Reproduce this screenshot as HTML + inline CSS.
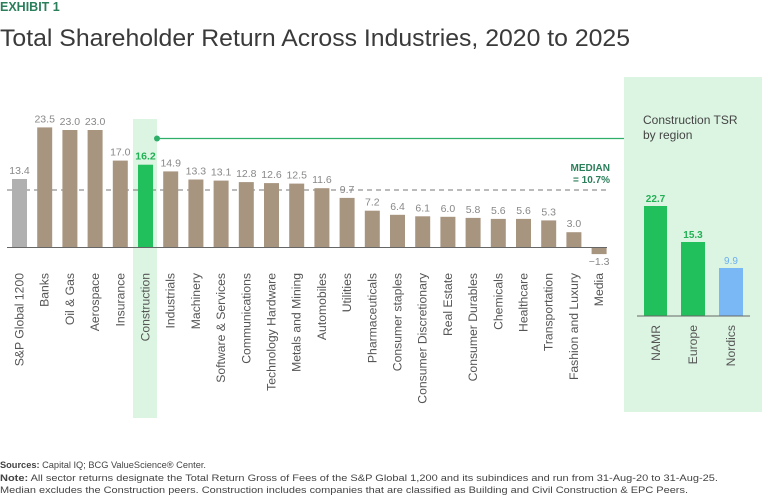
<!DOCTYPE html>
<html><head><meta charset="utf-8"><style>
html,body{margin:0;padding:0;background:#fff;}
svg{display:block;font-family:"Liberation Sans",sans-serif;}
</style></head><body>
<svg width="768" height="497" viewBox="0 0 768 497" xmlns="http://www.w3.org/2000/svg">
<text x="0" y="11" font-size="12.5" font-weight="bold" fill="#2a7f5a">EXHIBIT 1</text>
<text x="0" y="46" font-size="24" fill="#3a3a3a" textLength="630" lengthAdjust="spacingAndGlyphs">Total Shareholder Return Across Industries, 2020 to 2025</text>
<rect x="133" y="119" width="24" height="299" fill="#dcf5e2"/>
<rect x="624" y="77" width="138" height="335" fill="#dcf5e2"/>
<line x1="157" y1="138.5" x2="624" y2="138.5" stroke="#2fae6a" stroke-width="1.3"/>
<circle cx="157" cy="138.5" r="3" fill="#2fae6a"/>
<line x1="7" y1="190" x2="610" y2="190" stroke="#777" stroke-width="1" stroke-dasharray="5,4"/>
<text x="610" y="171" font-size="10" font-weight="bold" fill="#2a7f5a" text-anchor="end">MEDIAN</text>
<text x="610" y="183" font-size="10" font-weight="bold" fill="#2a7f5a" text-anchor="end">= 10.7%</text>
<g>
<rect x="12" y="179" width="15" height="68.5" fill="#b0b0b0"/>
<rect x="37.2" y="127.4" width="15" height="120.1" fill="#a89580"/>
<rect x="62.4" y="130" width="15" height="117.5" fill="#a89580"/>
<rect x="87.6" y="130" width="15" height="117.5" fill="#a89580"/>
<rect x="112.8" y="160.6" width="15" height="86.9" fill="#a89580"/>
<rect x="138" y="164.7" width="15" height="82.8" fill="#22c05c"/>
<rect x="163.2" y="171.4" width="15" height="76.1" fill="#a89580"/>
<rect x="188.4" y="179.5" width="15" height="68" fill="#a89580"/>
<rect x="213.6" y="180.6" width="15" height="66.9" fill="#a89580"/>
<rect x="238.8" y="182.1" width="15" height="65.4" fill="#a89580"/>
<rect x="264" y="183.1" width="15" height="64.4" fill="#a89580"/>
<rect x="289.2" y="183.6" width="15" height="63.9" fill="#a89580"/>
<rect x="314.4" y="188.2" width="15" height="59.3" fill="#a89580"/>
<rect x="339.6" y="197.9" width="15" height="49.6" fill="#a89580"/>
<rect x="364.8" y="210.7" width="15" height="36.8" fill="#a89580"/>
<rect x="390" y="214.8" width="15" height="32.7" fill="#a89580"/>
<rect x="415.2" y="216.3" width="15" height="31.2" fill="#a89580"/>
<rect x="440.4" y="216.8" width="15" height="30.7" fill="#a89580"/>
<rect x="465.6" y="217.9" width="15" height="29.6" fill="#a89580"/>
<rect x="490.8" y="218.9" width="15" height="28.6" fill="#a89580"/>
<rect x="516" y="218.9" width="15" height="28.6" fill="#a89580"/>
<rect x="541.2" y="220.4" width="15" height="27.1" fill="#a89580"/>
<rect x="566.4" y="232.2" width="15" height="15.3" fill="#a89580"/>
<rect x="591.6" y="247.5" width="15" height="6.6" fill="#a89580"/>
</g>
<g font-size="10.5" fill="#888" text-anchor="middle">
<text x="19.5" y="174">13.4</text>
<text x="44.7" y="122.4">23.5</text>
<text x="69.9" y="125">23.0</text>
<text x="95.1" y="125">23.0</text>
<text x="120.3" y="155.6">17.0</text>
<text x="145.5" y="159.7" fill="#22b055" font-weight="bold">16.2</text>
<text x="170.7" y="166.4">14.9</text>
<text x="195.9" y="174.5">13.3</text>
<text x="221.1" y="175.6">13.1</text>
<text x="246.3" y="177.1">12.8</text>
<text x="271.5" y="178.1">12.6</text>
<text x="296.7" y="178.6">12.5</text>
<text x="321.9" y="183.2">11.6</text>
<text x="347.1" y="192.9">9.7</text>
<text x="372.3" y="205.7">7.2</text>
<text x="397.5" y="209.8">6.4</text>
<text x="422.7" y="211.3">6.1</text>
<text x="447.9" y="211.8">6.0</text>
<text x="473.1" y="212.9">5.8</text>
<text x="498.3" y="213.9">5.6</text>
<text x="523.5" y="213.9">5.6</text>
<text x="548.7" y="215.4">5.3</text>
<text x="573.9" y="227.2">3.0</text>
<text x="599.1" y="265">−1.3</text>
</g>
<line x1="7" y1="247.5" x2="607" y2="247.5" stroke="#666" stroke-width="1"/>
<g font-size="12.2" fill="#555" text-anchor="end">
<text transform="translate(23.5,273) rotate(-90)">S&amp;P Global 1200</text>
<text transform="translate(48.7,273) rotate(-90)">Banks</text>
<text transform="translate(73.9,273) rotate(-90)">Oil &amp; Gas</text>
<text transform="translate(99.1,273) rotate(-90)">Aerospace</text>
<text transform="translate(124.3,273) rotate(-90)">Insurance</text>
<text transform="translate(149.5,273) rotate(-90)">Construction</text>
<text transform="translate(174.7,273) rotate(-90)">Industrials</text>
<text transform="translate(199.9,273) rotate(-90)">Machinery</text>
<text transform="translate(225.1,273) rotate(-90)">Software &amp; Services</text>
<text transform="translate(250.3,273) rotate(-90)">Communications</text>
<text transform="translate(275.5,273) rotate(-90)">Technology Hardware</text>
<text transform="translate(300.7,273) rotate(-90)">Metals and Mining</text>
<text transform="translate(325.9,273) rotate(-90)">Automobiles</text>
<text transform="translate(351.1,273) rotate(-90)">Utilities</text>
<text transform="translate(376.3,273) rotate(-90)">Pharmaceuticals</text>
<text transform="translate(401.5,273) rotate(-90)">Consumer staples</text>
<text transform="translate(426.7,273) rotate(-90)">Consumer Discretionary</text>
<text transform="translate(451.9,273) rotate(-90)">Real Estate</text>
<text transform="translate(477.1,273) rotate(-90)">Consumer Durables</text>
<text transform="translate(502.3,273) rotate(-90)">Chemicals</text>
<text transform="translate(527.5,273) rotate(-90)">Healthcare</text>
<text transform="translate(552.7,273) rotate(-90)">Transportation</text>
<text transform="translate(577.9,273) rotate(-90)">Fashion and Luxury</text>
<text transform="translate(603.1,273) rotate(-90)">Media</text>
</g>
<text x="643" y="124" font-size="12" fill="#444">Construction TSR</text>
<text x="643" y="139" font-size="12" fill="#444">by region</text>
<rect x="644" y="206" width="23" height="110" fill="#22c05c"/>
<rect x="681" y="242" width="24" height="74" fill="#22c05c"/>
<rect x="719" y="268" width="24" height="48" fill="#7ab8f5"/>
<text x="655.5" y="202" font-size="10" font-weight="bold" fill="#22b055" text-anchor="middle">22.7</text>
<text x="693" y="238" font-size="10" font-weight="bold" fill="#22b055" text-anchor="middle">15.3</text>
<text x="731" y="264" font-size="10" fill="#6aaef0" text-anchor="middle">9.9</text>
<line x1="637" y1="316" x2="750" y2="316" stroke="#666" stroke-width="1"/>
<text transform="translate(660,325) rotate(-90)" font-size="12.2" fill="#555" text-anchor="end">NAMR</text>
<text transform="translate(697,325) rotate(-90)" font-size="12.2" fill="#555" text-anchor="end">Europe</text>
<text transform="translate(735,325) rotate(-90)" font-size="12.2" fill="#555" text-anchor="end">Nordics</text>
<g font-size="9.5" fill="#444">
<text x="0" y="468" textLength="206" lengthAdjust="spacingAndGlyphs"><tspan font-weight="bold">Sources:</tspan> Capital IQ; BCG ValueScience® Center.</text>
<text x="0" y="481" textLength="718" lengthAdjust="spacingAndGlyphs"><tspan font-weight="bold">Note:</tspan> All sector returns designate the Total Return Gross of Fees of the S&amp;P Global 1,200 and its subindices and run from 31-Aug-20 to 31-Aug-25.</text>
<text x="0" y="493" textLength="688" lengthAdjust="spacingAndGlyphs">Median excludes the Construction peers. Construction includes companies that are classified as Building and Civil Construction &amp; EPC Peers.</text>
</g>
</svg>
</body></html>
